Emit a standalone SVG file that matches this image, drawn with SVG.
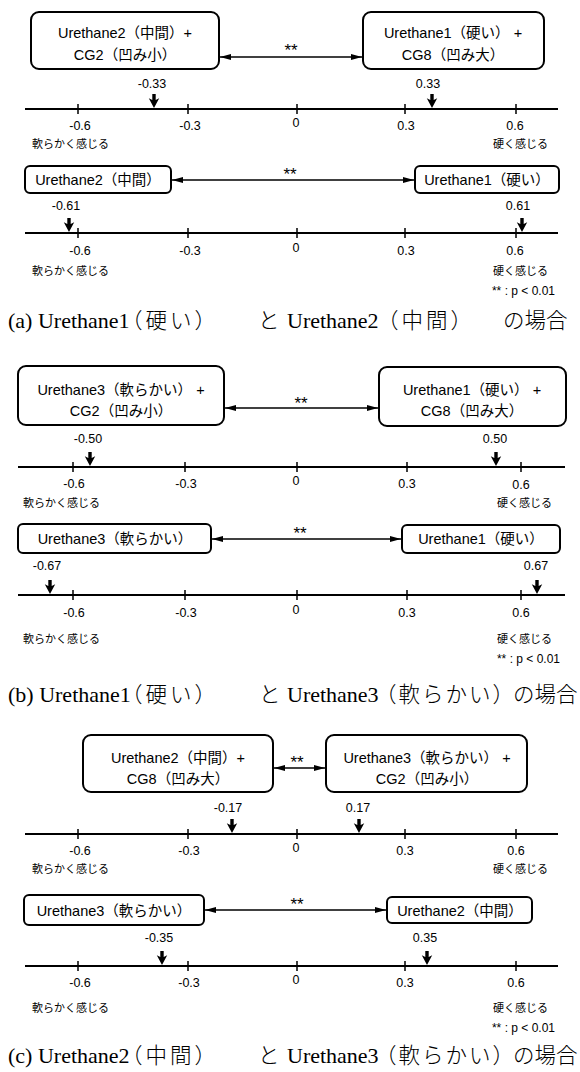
<svg xmlns="http://www.w3.org/2000/svg" width="580" height="1072" viewBox="0 0 580 1072">
<style>
.box{fill:#fff;stroke:#000;stroke-width:2}
.bt{font-family:"Liberation Sans","Noto Sans CJK JP",sans-serif;font-size:14.5px;text-anchor:middle;fill:#000}
.ax{stroke:#000;stroke-width:2;fill:none}
.tk{stroke:#000;stroke-width:1.5;fill:none}
.num{font-family:"Liberation Sans",sans-serif;font-size:12.5px;text-anchor:middle;fill:#000}
.jp{font-family:"Noto Sans CJK JP",sans-serif;font-size:11px;fill:#000}
.end{text-anchor:end}
.con{stroke:#000;stroke-width:1.4;fill:none;marker-start:url(#ah);marker-end:url(#ah)}
.sig{font-family:"Liberation Sans",sans-serif;font-size:17px;text-anchor:middle;fill:#000}
.p{font-family:"Liberation Sans",sans-serif;font-size:12px;text-anchor:end;fill:#000}
.cap{font-family:"Liberation Serif","Noto Sans CJK JP",serif;font-size:22px;fill:#000}
.cj{font-family:"Noto Sans CJK JP",sans-serif;font-size:21.5px;font-weight:300;letter-spacing:3px}
.cj0{font-family:"Noto Sans CJK JP",sans-serif;font-size:21.5px;font-weight:300}
.darr{fill:#000}
</style>
<defs>
<marker id="ah" viewBox="0 0 11 6" refX="11" refY="3" markerWidth="11" markerHeight="6" markerUnits="userSpaceOnUse" orient="auto-start-reverse"><path d="M0,0 L11,3 L0,6 Z"/></marker>
<path id="da" class="darr" d="M-1.7,-14 H1.7 V-8 L5.2,-9.8 L0,0 L-5.2,-9.8 L-1.7,-8 Z"/>
</defs>

<!-- ===== (a) ===== -->
<g id="a-node1"><rect class="box" x="31" y="12" width="188" height="57" rx="8"/><text class="bt" x="125" y="38">Urethane2（中間）+</text><text class="bt" x="125" y="60">CG2（凹み小）</text></g>
<g id="a-node2"><rect class="box" x="363" y="12" width="181" height="57" rx="8"/><text class="bt" x="453" y="38">Urethane1（硬い） +</text><text class="bt" x="453" y="60">CG8（凹み大）</text></g>
<g id="a-node3"><rect class="box" x="25" y="166" width="146" height="27" rx="5"/><text class="bt" x="98" y="185">Urethane2（中間）</text></g>
<g id="a-node4"><rect class="box" x="415" y="166" width="144" height="27" rx="5"/><text class="bt" x="487" y="185">Urethane1（硬い）</text></g>
<g id="a-axes">
<path class="ax" d="M25,109 H558 M25,233 H558"/>
<path class="tk" d="M78,104 V114 M188,104 V114 M297,104 V114 M405,104 V114 M516,104 V114 M78,228 V238 M188,228 V238 M297,228 V238 M405,228 V238 M516,228 V238"/>
<text class="num" x="80" y="130">-0.6</text><text class="num" x="190" y="130">-0.3</text><text class="num" x="296" y="127">0</text><text class="num" x="406" y="130">0.3</text><text class="num" x="515" y="130">0.6</text>
<text class="jp" x="32" y="148">軟らかく感じる</text><text class="jp end" x="548" y="148">硬く感じる</text>
<text class="num" x="80" y="255">-0.6</text><text class="num" x="190" y="255">-0.3</text><text class="num" x="296" y="252">0</text><text class="num" x="406" y="255">0.3</text><text class="num" x="515" y="255">0.6</text>
<text class="jp" x="32" y="275">軟らかく感じる</text><text class="jp end" x="548" y="275">硬く感じる</text>
<text class="p" x="555" y="295">** : p &lt; 0.01</text>
</g>
<g id="a-values">
<text class="num" x="152" y="88">-0.33</text><use href="#da" x="154" y="108"/>
<text class="num" x="428" y="88">0.33</text><use href="#da" x="432" y="108"/>
<text class="num" x="66" y="210">-0.61</text><use href="#da" x="69" y="232"/>
<text class="num" x="518" y="210">0.61</text><use href="#da" x="522" y="232"/>
</g>
<text id="a-caption" class="cap" y="328"><tspan x="8">(a) Urethane1</tspan><tspan class="cj" x="121">（硬い）</tspan><tspan class="cj0" x="258">と</tspan><tspan x="287">Urethane2</tspan><tspan class="cj" x="377">（中間）</tspan><tspan class="cj0" x="503">の場合</tspan></text>

<!-- ===== (b) ===== -->
<g id="b-node1"><rect class="box" x="18" y="366" width="206" height="59" rx="8"/><text class="bt" x="121" y="395">Urethane3（軟らかい） +</text><text class="bt" x="121" y="416">CG2（凹み小）</text></g>
<g id="b-node2"><rect class="box" x="379" y="367" width="187" height="59" rx="8"/><text class="bt" x="472" y="395">Urethane1（硬い） +</text><text class="bt" x="472" y="416">CG8（凹み大）</text></g>
<g id="b-node3"><rect class="box" x="18" y="524" width="193" height="29" rx="5"/><text class="bt" x="115" y="544">Urethane3（軟らかい）</text></g>
<g id="b-node4"><rect class="box" x="402" y="525" width="158" height="28" rx="5"/><text class="bt" x="481" y="544">Urethane1（硬い）</text></g>
<g id="b-axes">
<path class="ax" d="M18,467 H565 M18,595 H565"/>
<path class="tk" d="M73,462 V472 M185,462 V472 M297,462 V472 M407,462 V472 M521,462 V472 M73,590 V600 M185,590 V600 M297,590 V600 M407,590 V600 M521,590 V600"/>
<text class="num" x="74" y="488">-0.6</text><text class="num" x="186" y="488">-0.3</text><text class="num" x="296" y="485">0</text><text class="num" x="407" y="488">0.3</text><text class="num" x="521" y="489">0.6</text>
<text class="jp" x="23" y="507">軟らかく感じる</text><text class="jp end" x="552" y="507">硬く感じる</text>
<text class="num" x="74" y="617">-0.6</text><text class="num" x="186" y="617">-0.3</text><text class="num" x="296" y="614">0</text><text class="num" x="407" y="617">0.3</text><text class="num" x="521" y="617">0.6</text>
<text class="jp" x="23" y="643">軟らかく感じる</text><text class="jp end" x="552" y="643">硬く感じる</text>
<text class="p" x="560" y="663">** : p &lt; 0.01</text>
</g>
<g id="b-values">
<text class="num" x="88" y="443">-0.50</text><use href="#da" x="90" y="466"/>
<text class="num" x="495" y="443">0.50</text><use href="#da" x="496" y="466"/>
<text class="num" x="47" y="570">-0.67</text><use href="#da" x="50" y="594"/>
<text class="num" x="536" y="570">0.67</text><use href="#da" x="537" y="594"/>
</g>
<text id="b-caption" class="cap" y="702"><tspan x="8">(b) Urethane1</tspan><tspan class="cj" x="121">（硬い）</tspan><tspan class="cj0" x="259">と</tspan><tspan x="287">Urethane3</tspan><tspan class="cj0" x="375" letter-spacing="2">（軟らかい）</tspan><tspan class="cj0" x="513">の場合</tspan></text>

<!-- ===== (c) ===== -->
<g id="c-node1"><rect class="box" x="83" y="735" width="190" height="57" rx="8"/><text class="bt" x="178" y="763">Urethane2（中間）+</text><text class="bt" x="178" y="784">CG8（凹み大）</text></g>
<g id="c-node2"><rect class="box" x="326" y="735" width="201" height="57" rx="8"/><text class="bt" x="427" y="763">Urethane3（軟らかい） +</text><text class="bt" x="427" y="784">CG2（凹み小）</text></g>
<g id="c-node3"><rect class="box" x="24" y="895" width="180" height="30" rx="5"/><text class="bt" x="114" y="916">Urethane3（軟らかい）</text></g>
<g id="c-node4"><rect class="box" x="387" y="897" width="145" height="26" rx="5"/><text class="bt" x="460" y="916">Urethane2（中間）</text></g>
<g id="c-axes">
<path class="ax" d="M25,834 H558 M25,966 H558"/>
<path class="tk" d="M78,829 V839 M188,829 V839 M297,829 V839 M405,829 V839 M516,829 V839 M78,961 V971 M188,961 V971 M297,961 V971 M405,961 V971 M516,961 V971"/>
<text class="num" x="80" y="855">-0.6</text><text class="num" x="189" y="855">-0.3</text><text class="num" x="296" y="852">0</text><text class="num" x="405" y="855">0.3</text><text class="num" x="516" y="855">0.6</text>
<text class="jp" x="32" y="873">軟らかく感じる</text><text class="jp end" x="548" y="873">硬く感じる</text>
<text class="num" x="80" y="987">-0.6</text><text class="num" x="189" y="987">-0.3</text><text class="num" x="296" y="984">0</text><text class="num" x="405" y="987">0.3</text><text class="num" x="516" y="987">0.6</text>
<text class="jp" x="32" y="1012">軟らかく感じる</text><text class="jp end" x="548" y="1012">硬く感じる</text>
<text class="p" x="555" y="1032">** : p &lt; 0.01</text>
</g>
<g id="c-values">
<text class="num" x="228" y="812">-0.17</text><use href="#da" x="232" y="833"/>
<text class="num" x="358" y="812">0.17</text><use href="#da" x="359" y="833"/>
<text class="num" x="159" y="942">-0.35</text><use href="#da" x="162" y="965"/>
<text class="num" x="425" y="942">0.35</text><use href="#da" x="427" y="965"/>
</g>
<text id="c-caption" class="cap" y="1063"><tspan x="8">(c) Urethane2</tspan><tspan class="cj" x="121">（中間）</tspan><tspan class="cj0" x="258">と</tspan><tspan x="287">Urethane3</tspan><tspan class="cj0" x="375" letter-spacing="2">（軟らかい）</tspan><tspan class="cj0" x="513">の場合</tspan></text>

<!-- ===== connectors ===== -->
<g id="connectors">
<line class="con" x1="220" y1="57" x2="362" y2="57"/>
<text class="sig" x="291" y="56">**</text>
<line class="con" x1="172" y1="180" x2="414" y2="180"/>
<text class="sig" x="290" y="180">**</text>
<line class="con" x1="225" y1="408" x2="378" y2="408"/>
<text class="sig" x="301" y="409">**</text>
<line class="con" x1="212" y1="539" x2="401" y2="539"/>
<text class="sig" x="300" y="539">**</text>
<line class="con" x1="274" y1="768" x2="325" y2="768"/>
<text class="sig" x="297" y="768">**</text>
<line class="con" x1="205" y1="910" x2="386" y2="910"/>
<text class="sig" x="297" y="910">**</text>
</g>
</svg>
